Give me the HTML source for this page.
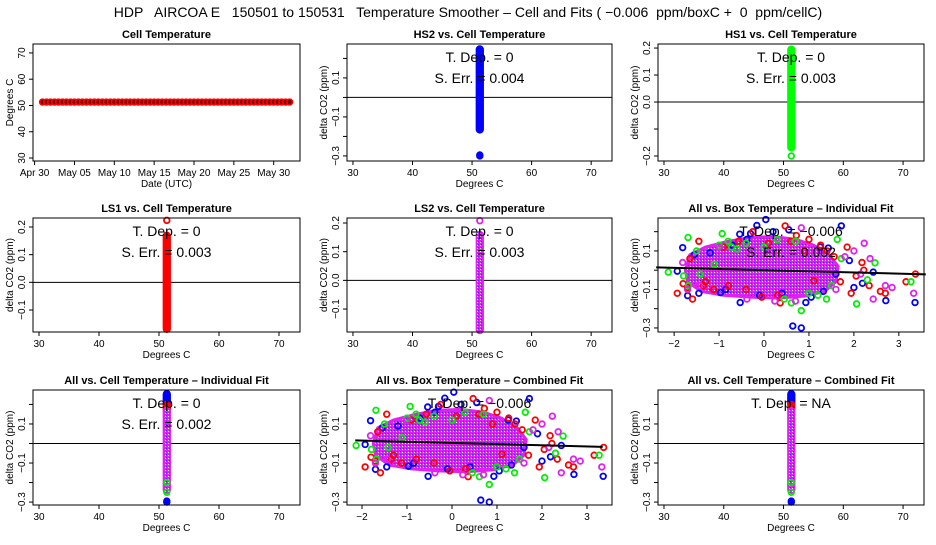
<!DOCTYPE html>
<html><head><meta charset="utf-8"><style>
html,body{margin:0;padding:0;background:#fff}
svg text{font-family:"Liberation Sans",Arial,sans-serif}
</style></head><body>
<svg id="c" width="936" height="540" viewBox="0 0 936 540" xmlns="http://www.w3.org/2000/svg">
<defs>
<pattern id="mg" width="3" height="3" patternUnits="userSpaceOnUse"><rect width="3" height="3" fill="#e020f0"/><rect x="1" y="1" width="1" height="1" fill="#4030ff"/><rect x="0" y="2" width="1" height="1" fill="#fff"/></pattern>
</defs>
<rect width="936" height="540" fill="#fff"/>
<text x="468" y="17" font-size="14" text-anchor="middle" xml:space="preserve">HDP   AIRCOA E   150501 to 150531   Temperature Smoother – Cell and Fits ( −0.006  ppm/boxC +  0  ppm/cellC)</text>
</svg>
<script>
// ---------- data ----------
const tsDays=[1.0,1.5,2.0,2.5,3.0,3.5,4.0,4.5,5.0,5.5,6.0,6.5,7.0,7.5,8.0,8.5,9.0,9.5,10.0,10.5,11.0,11.5,12.0,12.5,13.0,13.5,14.0,14.5,15.0,15.5,16.0,16.5,17.0,17.5,18.0,18.5,19.0,19.5,20.0,20.5,21.0,21.5,22.0,22.5,23.0,23.5,24.0,24.5,25.0,25.5,26.0,26.5,27.0,27.5,28.0,28.5,29.0,29.5,30.0,30.5,31.0,31.5,32.0];
const tsTemp=[51.3,51.3,51.3,51.3,51.3,51.3,51.3,51.3,51.3,51.3,51.3,51.3,51.3,51.3,51.3,51.3,51.3,51.3,51.3,51.3,51.3,51.3,51.3,51.3,51.3,51.3,51.3,51.3,51.3,51.3,51.3,51.3,51.3,51.3,51.3,51.3,51.3,51.3,51.3,51.3,51.3,51.3,51.3,51.3,51.3,51.3,51.3,51.3,51.3,51.3,51.3,51.3,51.3,51.3,51.3,51.3,51.3,51.3,51.3,51.3,51.3,51.3,51.3];
const dateTicks=[0,5,10,15,20,25,30];
const dateLabels=["Apr 30","May 05","May 10","May 15","May 20","May 25","May 30"];
const tempTicks=[30,40,50,60,70];
const cellTemp=51.3;
const hs2Strip=[-0.167,0.249]; const hs2Out=[-0.295,-0.30];
const hs1Strip=[-0.17,0.196];  const hs1Out=[-0.2];
const ls1Strip=[-0.17,0.17];   const ls1Out=[0.224,-0.16];
const ls2Strip=[-0.175,0.16];  const ls2Out=[0.208];
const allBlueTop=[0.2,0.255]; const allRedTop=[0.17,0.2]; const allMagenta=[-0.24,0.17]; const allGreen=[-0.2,-0.25]; const allBlueOut=[-0.295,-0.30];
// box temperature scatter
const blueX=[-1.81,-1.93,-1.70,-0.97,-0.53,0.04,-0.16,0.64,0.83,0.93,1.43,1.72,2.19,2.71,3.36,2.43,-0.54,-0.38,1.32,-0.71,0.40,-1.2,1.05,0.2,-1.55,-1.45,-0.3,0.55,1.6,2.0,-0.85,1.25,1.9,-0.1];
const blueY=[0.117,-0.005,-0.132,-0.116,-0.168,0.263,0.232,-0.29,-0.30,-0.168,0.115,0.23,-0.068,-0.158,-0.168,-0.01,0.187,0.16,-0.11,0.13,-0.12,0.09,-0.14,0.2,0.08,-0.12,0.19,0.21,-0.02,-0.09,-0.1,0.12,0.05,-0.13];
const redX=[-1.93,-1.59,-1.45,-1.80,-1.12,-0.57,-0.25,0.47,0.72,1.26,1.85,2.18,2.22,1.94,2.34,2.59,2.70,3.16,3.37,0.36,-0.05,-0.79,1.11,1.56,-1.3,0.9,-1.65,-1.35,-0.9,0.1,0.6,1.4,1.7,2.05,-1.7,0.3,1.0,-0.4];
const redY=[-0.12,-0.15,0.15,-0.07,-0.10,0.15,0.20,0.23,0.18,0.13,0.12,0.04,0.0,-0.12,-0.08,-0.11,-0.12,-0.06,-0.02,-0.17,-0.14,-0.08,-0.055,0.07,-0.06,0.1,0.06,-0.08,0.12,0.14,0.15,0.1,-0.06,-0.03,-0.09,-0.13,0.16,-0.1];
const greenX=[-2.13,-1.69,-1.79,-1.68,-0.93,-1.11,0.83,0.61,1.20,1.63,1.72,2.06,2.47,3.27,1.39,0.00,0.29,-0.72,-1.42,-0.4,0.7,-1.0,-0.8,-0.6,1.0,1.5,-1.5,0.45,2.3];
const greenY=[-0.01,0.17,-0.03,-0.08,0.19,0.03,-0.21,-0.17,-0.13,0.16,0.06,-0.175,0.038,-0.06,-0.15,0.12,0.16,0.12,-0.02,0.14,0.15,0.13,0.15,0.11,-0.12,-0.08,0.1,-0.15,-0.05];
const magX=[-1.81,-0.38,0.83,2.23,2.36,2.85,2.70,3.33,2.43,2.00,-1.44,0.24,1.6,-1.0,1.8,-1.7,0.7,2.15];
const magY=[0.04,-0.15,0.22,0.14,0.06,-0.09,-0.08,-0.12,-0.15,0.10,-0.08,-0.16,-0.1,0.12,0.07,-0.1,-0.16,-0.02];
const coreX=[-1.75,-1.65,-1.3,-0.8,-0.3,0.2,0.7,1.1,1.45,1.65,1.6,1.35,0.9,0.3,-0.3,-0.9,-1.4,-1.7];
const coreY=[0.0,0.08,0.12,0.15,0.17,0.175,0.16,0.13,0.08,0.02,-0.06,-0.11,-0.135,-0.145,-0.14,-0.13,-0.11,-0.06];
const fitSlope=-0.006; const fitIntIndiv=0.0; const fitIntComb=0.003;
const boxTicks=[-2,-1,0,1,2,3];
const co2TicksWide=[-0.3,-0.2,-0.1,0,0.1,0.2]; const co2LabWide=[-0.3,-0.1,0.1];
const co2TicksHS1=[-0.2,-0.1,0,0.1,0.2]; const co2LabHS1=[-0.2,0,0.1,0.2];
const co2TicksLS=[-0.1,0,0.1,0.2]; const co2LabLS=[-0.1,0,0.1,0.2];

// ---------- drawing ----------
const NS="http://www.w3.org/2000/svg", svg=document.getElementById('c');
function el(t,a,p){const e=document.createElementNS(NS,t);for(const k in a)e.setAttribute(k,a[k]);(p||svg).appendChild(e);return e;}
function sc(d0,d1,r0,r1){return v=>r0+(v-d0)/(d1-d0)*(r1-r0);}
const cols=[[33,300],[347,612],[658,924]], rows=[[44,161],[218,332],[390,505]];
function fmt(v,one){if(Math.abs(v)<1e-9)return one?"0.0":"0";const s=one?v.toFixed(1):String(v);return s.replace('-','−');}
function panel(name,c,r,title,xd,yd,xt,xl,yt,yl,xlab,ylab,dec){
  const [x0,x1]=cols[c],[y0,y1]=rows[r];
  const g=el('g',{});
  
  
  const X=sc(xd[0],xd[1],x0,x1),Y=sc(yd[0],yd[1],y1,y0);
  const t=el('text',{x:(x0+x1)/2,y:y0-6,'font-size':11,'font-weight':'bold','text-anchor':'middle'},g);t.textContent=title;
  
  const plot=el('g',{},g);
  
  
  const ax=el('g',{stroke:'#000','stroke-width':1},g);
  
  
  xt.forEach((v,i)=>{const px=X(v);el('line',{x1:px,x2:px,y1:y1,y2:y1+4},ax);
    const tx=el('text',{x:px,y:y1+15,'font-size':10,'text-anchor':'middle',stroke:'none'},ax);tx.textContent=xl[i];});
  const xtl=el('text',{x:(x0+x1)/2,y:y1+26,'font-size':10,'text-anchor':'middle'},g);xtl.textContent=xlab;
  
  const ay=el('g',{stroke:'#000'},g);
  
  
  yt.forEach(v=>{const py=Y(v);el('line',{x1:x0-4,x2:x0,y1:py,y2:py},ay);});
  yl.forEach(v=>{const py=Y(v);const tx=el('text',{x:0,y:0,'font-size':10,'text-anchor':'middle',stroke:'none',transform:`translate(${x0-8},${py}) rotate(-90)`},ay);tx.textContent=fmt(v,dec);});
  const ytl=el('text',{x:0,y:0,'font-size':10,'text-anchor':'middle',transform:`translate(${x0-20},${(y0+y1)/2}) rotate(-90)`},g);ytl.textContent=ylab;
  
  return {X,Y,plot,g,x0,x1,y0,y1,finish(){const b=el('rect',{x:x0,y:y0,width:x1-x0,height:y1-y0,fill:'none',stroke:'#000'},g);}};
}
function note(p,lines){lines.forEach((s,i)=>{const t=el('text',{x:(p.x0+p.x1)/2,y:p.y0+18+i*21,'font-size':14,'text-anchor':'middle'},p.g);t.textContent=s;
  });}
function zero(p){const l=el('line',{x1:p.x0,x2:p.x1,y1:p.Y(0),y2:p.Y(0),stroke:'#000'},p.plot);}
function strip(p,x,rng,col,fill){const px=p.X(x),a=p.Y(rng[1]),b=p.Y(rng[0]);
  const r=el('rect',{x:px-3.5,y:Math.min(a,b)-3,width:7,height:Math.abs(b-a)+6,rx:3.5,fill:fill,stroke:col,'stroke-width':1.3},p.plot);
  }
function pt(p,x,y,col,fill){const c=el('circle',{cx:p.X(x),cy:p.Y(y),r:2.8,fill:fill||'none',stroke:col,'stroke-width':1.8},p.plot);
  }
const cellXD=[29,73.5], cellXT=[30,40,50,60,70], cellXL=["30","40","50","60","70"];
const boxXL=["−2","−1","0","1","2","3"];
const YL="delta CO2 (ppm)";

{const p=panel('cell-temperature-panel',0,0,'Cell Temperature',[-0.2,33.3],[28.86,73.4],dateTicks,dateLabels,tempTicks,tempTicks,'Date (UTC)','Degrees C',false);
 tsDays.forEach((d,i)=>pt(p,d,tsTemp[i],'#f00','#600'));p.finish();}
{const p=panel('hs2-panel',1,0,'HS2 vs. Cell Temperature',cellXD,[-0.326,0.274],cellXT,cellXL,co2TicksWide,co2LabWide,'Degrees C',YL,false);
 zero(p);strip(p,cellTemp,hs2Strip,'#00f','#00f');hs2Out.forEach(v=>pt(p,cellTemp,v,'#00f','#00f'));note(p,['T. Dep. =  0','S. Err. =  0.004']);p.finish();}
{const p=panel('hs1-panel',2,0,'HS1 vs. Cell Temperature',cellXD,[-0.2185,0.215],cellXT,cellXL,co2TicksHS1,co2LabHS1,'Degrees C',YL,true);
 zero(p);strip(p,cellTemp,hs1Strip,'#0f0','#0f0');hs1Out.forEach(v=>pt(p,cellTemp,v,'#0e0'));note(p,['T. Dep. =  0','S. Err. =  0.003']);p.finish();}
{const p=panel('ls1-panel',0,1,'LS1 vs. Cell Temperature',cellXD,[-0.1795,0.2325],cellXT,cellXL,co2TicksLS,co2LabLS,'Degrees C',YL,true);
 zero(p);strip(p,cellTemp,ls1Strip,'#f00','#f00');ls1Out.forEach(v=>pt(p,cellTemp,v,'#f00'));note(p,['T. Dep. =  0','S. Err. =  0.003']);p.finish();}
{const p=panel('ls2-panel',1,1,'LS2 vs. Cell Temperature',cellXD,[-0.18,0.2174],cellXT,cellXL,co2TicksLS,co2LabLS,'Degrees C',YL,true);
 zero(p);strip(p,cellTemp,ls2Strip,'#e020f0','url(#mg)');ls2Out.forEach(v=>pt(p,cellTemp,v,'#e020f0'));note(p,['T. Dep. =  0','S. Err. =  0.003']);p.finish();}
function scatter(p,intc,full){
  const pts=coreX.map((x,i)=>p.X(x)+','+p.Y(coreY[i])).join(' ');
  const core=el('polygon',{points:pts,fill:'url(#mg)',stroke:'#e020f0','stroke-width':3},p.plot);
  
  blueX.forEach((x,i)=>pt(p,x,blueY[i],'#00f'));
  redX.forEach((x,i)=>pt(p,x,redY[i],'#f00'));
  greenX.forEach((x,i)=>pt(p,x,greenY[i],'#0e0'));
  magX.forEach((x,i)=>pt(p,x,magY[i],'#e020f0'));
  const xa=full?-2.4:-2.15, xb=full?3.6:3.35;
  const l=el('line',{x1:p.X(xa),x2:p.X(xb),y1:p.Y(intc+fitSlope*xa),y2:p.Y(intc+fitSlope*xb),stroke:'#000','stroke-width':2},p.plot);
  
}
{const p=panel('all-box-individual-panel',2,1,'All vs. Box Temperature – Individual Fit',[-2.359,3.56],[-0.321,0.271],boxTicks,boxXL,co2TicksWide,co2LabWide,'Degrees C',YL,false);
 scatter(p,fitIntIndiv,true);note(p,['T. Dep. =  −0.006','S. Err. =  0.002']);p.finish();}
{const p=panel('all-box-combined-panel',1,2,'All vs. Box Temperature – Combined Fit',[-2.333,3.556],[-0.315,0.274],boxTicks,boxXL,co2TicksWide,co2LabWide,'Degrees C',YL,false);
 scatter(p,fitIntComb,false);note(p,['T. Dep. =  −0.006']);p.finish();}
function allStrip(p){zero(p);strip(p,cellTemp,allBlueTop,'#00f','#00f');strip(p,cellTemp,allRedTop,'#f00','#f00');strip(p,cellTemp,allMagenta,'#e020f0','url(#mg)');
  allGreen.forEach(v=>pt(p,cellTemp,v,'#0e0'));allBlueOut.forEach(v=>pt(p,cellTemp,v,'#00f','#00f'));}
{const p=panel('all-cell-individual-panel',0,2,'All vs. Cell Temperature – Individual Fit',cellXD,[-0.315,0.274],cellXT,cellXL,co2TicksWide,co2LabWide,'Degrees C',YL,false);
 allStrip(p);note(p,['T. Dep. =  0','S. Err. =  0.002']);p.finish();}
{const p=panel('all-cell-combined-panel',2,2,'All vs. Cell Temperature – Combined Fit',cellXD,[-0.315,0.274],cellXT,cellXL,co2TicksWide,co2LabWide,'Degrees C',YL,false);
 allStrip(p);note(p,['T. Dep. =  NA']);p.finish();}
</script>
</body></html>
